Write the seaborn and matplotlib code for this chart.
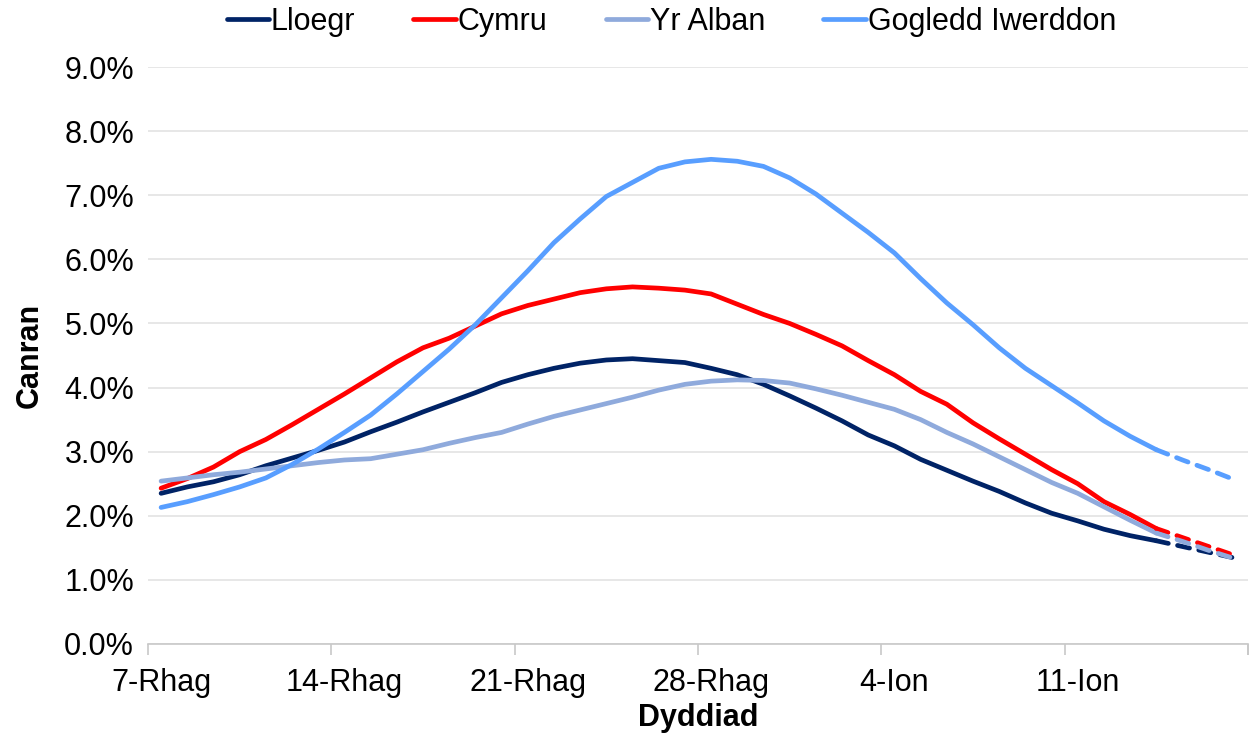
import numpy as np
import pandas as pd
import matplotlib
matplotlib.use('Agg')
import matplotlib.pyplot as plt
import seaborn as sns

# Data (percent, one value per day from 7-Rhag to 17-Ion)
lloegr = [2.35, 2.45, 2.53, 2.64, 2.78, 2.90, 3.02, 3.15, 3.31, 3.46,
          3.62, 3.77, 3.92, 4.08, 4.20, 4.30, 4.38, 4.43, 4.45, 4.42,
          4.39, 4.30, 4.20, 4.05, 3.87, 3.68, 3.48, 3.26, 3.09, 2.88,
          2.71, 2.54, 2.38, 2.20, 2.04, 1.92, 1.79, 1.69, 1.61, 1.52,
          1.43, 1.34]
cymru = [2.43, 2.58, 2.76, 3.00, 3.19, 3.42, 3.66, 3.90, 4.15, 4.40,
         4.62, 4.77, 4.96, 5.15, 5.28, 5.38, 5.48, 5.54, 5.57, 5.55,
         5.52, 5.46, 5.30, 5.14, 5.00, 4.83, 4.65, 4.42, 4.20, 3.94,
         3.74, 3.45, 3.20, 2.96, 2.72, 2.50, 2.22, 2.02, 1.80, 1.66,
         1.52, 1.38]
yr_alban = [2.54, 2.59, 2.64, 2.68, 2.73, 2.78, 2.83, 2.87, 2.89, 2.96,
            3.03, 3.13, 3.22, 3.30, 3.43, 3.55, 3.65, 3.75, 3.85, 3.96,
            4.05, 4.10, 4.12, 4.11, 4.07, 3.98, 3.88, 3.77, 3.66, 3.50,
            3.30, 3.12, 2.92, 2.72, 2.52, 2.35, 2.14, 1.93, 1.73, 1.60,
            1.46, 1.33]
gogledd_iwerddon = [2.13, 2.22, 2.33, 2.45, 2.59, 2.80, 3.04, 3.30, 3.57, 3.90,
                    4.25, 4.60, 4.98, 5.40, 5.82, 6.26, 6.63, 6.98, 7.20, 7.42,
                    7.52, 7.56, 7.53, 7.45, 7.27, 7.02, 6.72, 6.42, 6.10, 5.70,
                    5.32, 4.98, 4.62, 4.30, 4.03, 3.76, 3.48, 3.24, 3.03, 2.87,
                    2.72, 2.56]

gwledydd = ['Lloegr', 'Cymru', 'Yr Alban', 'Gogledd Iwerddon']
lliwiau = ['#002366', '#FF0000', '#8FAADC', '#589EFF']
tick_labels = ['7-Rhag', '14-Rhag', '21-Rhag', '28-Rhag', '4-Ion', '11-Ion']
diwedd_solet = 38  # last day drawn solid, rest is dashed

cyfres = [lloegr, cymru, yr_alban, gogledd_iwerddon]
df = pd.concat([
    pd.DataFrame({'diwrnod': np.arange(len(v)), 'canran': v, 'gwlad': g})
    for g, v in zip(gwledydd, cyfres)
], ignore_index=True)

sns.set_theme(style='white')
plt.rcParams['font.family'] = ['Liberation Sans', 'DejaVu Sans']
plt.rcParams['text.color'] = 'black'
plt.rcParams['axes.labelcolor'] = 'black'
FS = 22

fig = plt.figure(figsize=(12.5, 7.38), dpi=100)
ax = fig.add_axes([0.1184, 0.1274, 0.88, 0.7818])

palette = dict(zip(gwledydd, lliwiau))

# solid part
solet = df[df['diwrnod'] <= diwedd_solet]
sns.lineplot(data=solet, x='diwrnod', y='canran', hue='gwlad', hue_order=gwledydd,
             palette=palette, lw=3.4, ax=ax, solid_capstyle='round')

# dashed tail
for g in gwledydd:
    tail = df[(df['gwlad'] == g) & (df['diwrnod'] >= diwedd_solet)]
    sns.lineplot(data=tail, x='diwrnod', y='canran', color=palette[g], lw=3.4,
                 ax=ax, legend=False, linestyle=(0, (2.6, 2.0)),
                 dash_capstyle='round')

# axes
ax.set_xlim(-0.5, 41.5)
ax.set_ylim(0, 9)
ax.set_yticks(np.arange(0, 9.5, 1))
ax.set_yticklabels([f'{v:.1f}%' for v in np.arange(0, 9.5, 1)], fontsize=FS)
ax.set_xticks(np.arange(0, 36, 7))
ax.set_xticklabels(tick_labels, fontsize=FS)
ax.set_xticks(np.arange(-0.5, 42, 7).tolist() + [41.5], minor=True)
ax.tick_params(axis='x', which='major', bottom=False, pad=11, colors='black')
ax.tick_params(axis='x', which='minor', bottom=True, length=8, width=1.2, color='#C8C8C8')
ax.tick_params(axis='y', left=False, pad=4, colors='black')

ax.grid(axis='y', color='#E3E3E3', lw=1.2)
ax.grid(axis='x', visible=False)
for s in ['top', 'right', 'left']:
    ax.spines[s].set_visible(False)
ax.spines['bottom'].set_color('#C8C8C8')
ax.spines['bottom'].set_linewidth(1.2)

ax.set_xlabel('Dyddiad', fontsize=FS, fontweight='bold', labelpad=4)
ax.set_ylabel('Canran', fontsize=FS, fontweight='bold', labelpad=14)

handles, labels = ax.get_legend_handles_labels()
leg = ax.legend(handles[:4], labels[:4], loc='center', bbox_to_anchor=(0.537, 0.970),
                bbox_transform=fig.transFigure, ncol=4, frameon=False, fontsize=FS,
                handlelength=1.4, handletextpad=0.05, columnspacing=1.9)
for t in leg.get_texts():
    t.set_color('black')

fig.savefig('out.png', dpi=100)
